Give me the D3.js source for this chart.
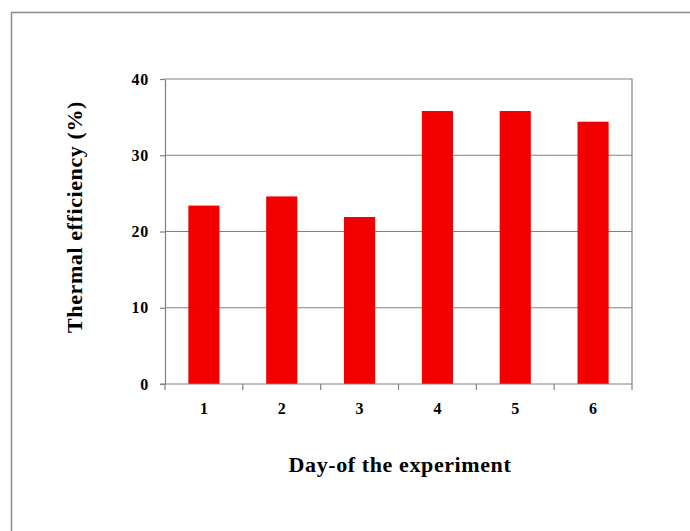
<!DOCTYPE html>
<html><head><meta charset="utf-8">
<script src="https://cdn.jsdelivr.net/npm/d3@7"></script>
<style>html,body{margin:0;padding:0;background:#fff;}</style>
</head><body>
<script>
const days = ["1","2","3","4","5","6"];
const efficiency = [23.4, 24.6, 21.9, 35.8, 35.8, 34.4];
const yTicks = [0, 10, 20, 30, 40];

const W = 690, H = 531;
const svg = d3.select("body").append("svg").attr("width", W).attr("height", H);
const font = "'Liberation Serif', 'Times New Roman', serif";

svg.append("rect").attr("x", 11.5).attr("y", 12.5).attr("width", 700).attr("height", 540)
  .attr("fill", "none").attr("stroke", "#8c8c8c").attr("stroke-width", 1.5);

const m = {l: 165, r: 632, t: 79, b: 384};
const x = d3.scaleBand().domain(days).range([m.l, m.r]).paddingInner(0.6).paddingOuter(0.3);
const xb = d3.scaleBand().domain(days).range([m.l, m.r]);
const y = d3.scaleLinear().domain([0, 40]).range([m.b, m.t]);

// gridlines
svg.append("g").selectAll("line").data(yTicks.filter(d => d > 0 && d < 40)).join("line")
  .attr("x1", m.l).attr("x2", m.r).attr("y1", d => y(d)).attr("y2", d => y(d))
  .attr("stroke", "#808080").attr("stroke-width", 1.2);
// plot border top/right
svg.append("path").attr("d", `M${m.l},${m.t}H${m.r}V${m.b}`).attr("fill", "none")
  .attr("stroke", "#808080").attr("stroke-width", 1.2);

// bars
svg.append("g").selectAll("rect").data(efficiency).join("rect")
  .attr("x", (d, i) => x(days[i])).attr("width", x.bandwidth())
  .attr("y", d => y(d)).attr("height", d => y(0) - y(d))
  .attr("fill", "#f20000");

// y axis
const ya = svg.append("g").attr("transform", `translate(${m.l},0)`)
  .call(d3.axisLeft(y).tickValues(yTicks).tickSize(5).tickPadding(11).tickSizeOuter(0));
ya.select(".domain").attr("stroke", "#808080").attr("stroke-width", 1.2);
ya.selectAll(".tick line").attr("stroke", "#808080").attr("stroke-width", 1.2);
ya.selectAll("text").attr("font-family", font).attr("font-weight", "bold").attr("font-size", 16)
  .attr("letter-spacing", 0.8).attr("fill", "#000");

// x axis
const xa = svg.append("g").attr("transform", `translate(0,${m.b})`)
  .call(d3.axisBottom(x).tickSize(0).tickPadding(19));
xa.select(".domain").remove();
xa.selectAll("text").attr("font-family", font).attr("font-weight", "bold").attr("font-size", 16).attr("fill", "#000");
svg.append("g").selectAll("line").data(days.concat(["end"])).join("line")
  .attr("x1", (d, i) => m.l + i * xb.bandwidth()).attr("x2", (d, i) => m.l + i * xb.bandwidth())
  .attr("y1", m.b).attr("y2", m.b + 6).attr("stroke", "#808080").attr("stroke-width", 1.2);
svg.append("line").attr("x1", m.l - 5).attr("x2", m.r).attr("y1", m.b).attr("y2", m.b)
  .attr("stroke", "#808080").attr("stroke-width", 1.2);

// titles
svg.append("text").attr("x", 400).attr("y", 472).attr("text-anchor", "middle")
  .attr("font-family", font).attr("font-weight", "bold").attr("font-size", 22).attr("letter-spacing", 0.6)
  .text("Day-of the experiment");
svg.append("text").attr("transform", `translate(82,217) rotate(-90)`).attr("text-anchor", "middle")
  .attr("font-family", font).attr("font-weight", "bold").attr("font-size", 22).attr("letter-spacing", 0.6)
  .text("Thermal efficiency (%)");
</script>
</body></html>
